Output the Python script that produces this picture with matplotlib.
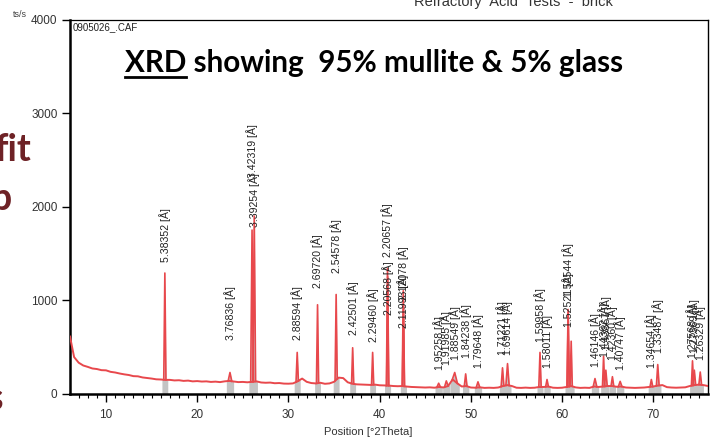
import numpy as np
import matplotlib
matplotlib.use("Agg")
import matplotlib.pyplot as plt
from matplotlib.lines import Line2D

# ---------------- data ----------------
bg_theta = [6.05, 6.5, 7.0, 7.5, 8.0, 8.5, 9.0, 9.5, 10.0, 10.5, 11.0, 11.5, 12.0, 12.5,
            13.0, 13.5, 14.0, 14.5, 15.0, 15.5, 16.0, 16.5, 17.0, 17.5, 18.0, 18.5, 19.0,
            19.5, 20.0, 20.5, 21.0, 21.5, 22.0, 22.5, 23.0, 23.5, 24.0, 24.5, 25.0, 25.5,
            26.0, 26.5, 27.0, 27.5, 28.0, 28.5, 29.0, 29.5, 30.0, 30.5, 31.0, 31.5, 32.0,
            32.5, 33.0, 33.5, 34.0, 34.5, 35.0, 35.5, 36.0, 36.5, 37.0, 37.5, 38.0, 38.5,
            39.0, 39.5, 40.0, 40.5, 41.0, 41.5, 42.0, 42.5, 43.0, 43.5, 44.0, 44.5, 45.0,
            45.5, 46.0, 46.5, 47.0, 47.5, 48.0, 48.5, 49.0, 49.5, 50.0, 50.5, 51.0, 51.5,
            52.0, 52.5, 53.0, 53.5, 54.0, 54.5, 55.0, 55.5, 56.0, 56.5, 57.0, 57.5, 58.0,
            58.5, 59.0, 59.5, 60.0, 60.5, 61.0, 61.5, 62.0, 62.5, 63.0, 63.5, 64.0, 64.5,
            65.0, 65.5, 66.0, 66.5, 67.0, 67.5, 68.0, 68.5, 69.0, 69.5, 70.0, 70.5, 71.0,
            71.5, 72.0, 72.5, 73.0, 73.5, 74.0, 74.5, 75.0, 75.5, 76.0]
bg_counts = [610, 390, 330, 300, 285, 268, 262, 250, 248, 232, 225, 214, 205, 198,
             186, 184, 172, 166, 160, 152, 150, 146, 146, 140, 142, 135, 138,
             130, 133, 128, 130, 124, 127, 122, 130, 135, 128, 122, 124, 120,
             125, 130, 118, 115, 117, 110, 112, 106, 105, 108, 130, 160, 125,
             112, 108, 115, 104, 108, 125, 170, 165, 120, 105, 98, 96, 94,
             92, 95, 88, 86, 85, 80, 78, 80, 74, 70, 68, 66, 64,
             66, 62, 70, 65, 80, 150, 110, 75, 80, 64, 62, 66, 60,
             62, 60, 64, 80, 90, 80, 62, 60, 63, 60, 62, 70, 70,
             75, 62, 60, 62, 70, 80, 65, 60, 62, 60, 75, 70, 75,
             80, 80, 72, 75, 64, 62, 60, 62, 64, 70, 75, 85, 90,
             68, 64, 62, 64, 66, 80, 90, 95, 90, 80]

peak_theta = [16.45, 23.59, 26.01, 26.25, 30.96, 33.19, 35.23, 37.04, 39.23, 40.86,
              40.88, 42.59, 42.61, 46.47, 47.31, 48.23, 49.43, 50.78, 53.47, 54.02,
              57.58, 58.35, 60.66, 60.67, 61.00, 63.61, 64.55, 64.80, 65.52, 66.37,
              69.79, 70.49, 74.30, 74.50, 75.15]
peak_counts = [1290, 225, 1750, 1900, 440, 950, 1060, 490, 440, 1340,
               1250, 1100, 950, 110, 135, 225, 210, 125, 275, 320,
               440, 150, 900, 860, 560, 160, 400, 250, 180, 130,
               150, 310, 350, 250, 230]
peak_labels = ["5.38352", "3.76836", "3.42319", "3.39254", "2.88594", "2.69720",
               "2.54578", "2.42501", "2.29460", "2.20657", "2.20568", "2.12078",
               "2.11993", "1.95258", "1.91985", "1.88549", "1.84238", "1.79648",
               "1.71221", "1.69614", "1.59958", "1.58011", "1.52544", "1.52521", "",
               "1.46146", "1.44362", "1.43867", "1.42360", "1.40747", "1.34654",
               "1.33487", "1.27568", "1.27369", "1.26329"]

# ---------------- layout / style ----------------
peak_halfwidth = [0.12, 0.2, 0.15, 0.15, 0.13, 0.12, 0.12, 0.12, 0.12, 0.12,
                  0.12, 0.12, 0.12, 0.2, 0.2, 0.3, 0.15, 0.2, 0.15, 0.18,
                  0.13, 0.15, 0.12, 0.12, 0.12, 0.2, 0.12, 0.15, 0.15, 0.2,
                  0.15, 0.15, 0.12, 0.15, 0.15]
label_bottom = [1410, 570, 2310, 1780, 570, 1125, 1295, 625, 550, 1460,
                840, 1000, 700, 250, 300, 355, 375, 270, 410, 410,
                550, 270, 1030, 710, None, 280, 390, 465, 355, 250,
                270, 430, 380, 430, 355]

W, H = 713, 438
RED = "#e8484c"
GRAY = "#c4c4c4"
MAROON = "#6e2226"
plt.rcParams["font.family"] = ["Liberation Sans", "DejaVu Sans"]

fig = plt.figure(figsize=(W / 100, H / 100), dpi=100)
ax = fig.add_axes([70 / W, 1 - 393.5 / H, (708 - 70) / W, (393.5 - 20) / H])
ax.set_xlim(6.05, 76.0)
ax.set_ylim(0, 4000)

def bgval(t):
    return float(np.interp(t, bg_theta, bg_counts))

# gray filled peak areas
for t, h, hw in zip(peak_theta, peak_counts, peak_halfwidth):
    gw = hw + 0.2
    xs = [t - gw, t - hw, t, t + hw, t + gw]
    ys = [bgval(t - gw), bgval(t - hw), h, bgval(t + hw), bgval(t + gw)]
    ax.fill_between(xs, 0, ys, color=GRAY, lw=0, zorder=1)

# trace
ax.plot(bg_theta, bg_counts, color=RED, lw=1.4, zorder=3)
for t, h, hw in zip(peak_theta, peak_counts, peak_halfwidth):
    ax.plot([t - hw, t, t + hw], [bgval(t - hw), h, bgval(t + hw)],
            color=RED, lw=1.2, zorder=3)

# peak labels
for t, lab, yb in zip(peak_theta, peak_labels, label_bottom):
    if lab:
        ax.text(t, yb, lab + " [Å]", rotation=90, ha="center", va="bottom",
                fontsize=7.6, color="#222222", zorder=4)

# axes styling
for s, lw in (("left", 1.8), ("bottom", 1.8), ("top", 0.9), ("right", 1.0)):
    ax.spines[s].set_linewidth(lw)
    ax.spines[s].set_color("black")
ax.set_yticks([0, 1000, 2000, 3000, 4000])
ax.set_xticks([10, 20, 30, 40, 50, 60, 70])
ax.set_xticks(np.arange(7, 76, 1), minor=True)
ax.tick_params(axis="both", which="major", direction="out", length=6, width=1,
               labelsize=8.5, labelcolor="#333333", pad=3)
ax.tick_params(axis="x", which="minor", direction="out", length=3, width=0.8)
ax.tick_params(axis="x", which="major", pad=5)

fig.text(13 / W, 1 - 17 / H, "ts/s", fontsize=6.5, color="#444444", va="baseline")
ax.text(0.004, 0.993, "0905026_.CAF", transform=ax.transAxes, fontsize=7,
        color="#222222", va="top", ha="left")
fig.text(368 / W, 1 - 435 / H, "Position [°2Theta]", fontsize=8, color="#333333",
         ha="center", va="baseline")

# partially visible slide header (cut at the top edge)
fig.text(513 / W, 1 - 6 / H, "Refractory  Acid  Tests  -  brick", fontsize=10.5,
         color="#333333", ha="center", va="baseline")

# title with underlined "XRD"
tfont = dict(family="Lato", weight="bold", size=21.3, color="black")
title_x, title_y = 125 / W, 1 - 72 / H
fig.text(title_x, title_y, "XRD showing  95% mullite & 5% glass", va="baseline",
         ha="left", **tfont)
probe = fig.text(title_x, title_y, "XRD", va="baseline", ha="left", alpha=0, **tfont)
fig.canvas.draw()
bb = probe.get_window_extent(fig.canvas.get_renderer())
uy = 1 - 77 / H
fig.add_artist(Line2D([bb.x0 / W, bb.x1 / W], [uy, uy], color="black", lw=2.0,
                      transform=fig.transFigure))

# slide fragments on the left
lfont = dict(family="Lato", weight="bold", size=27, color=MAROON)
fig.text(31 / W, 1 - 161 / H, "fit", ha="right", va="baseline", **lfont)
fig.text(12 / W, 1 - 210 / H, "p", ha="right", va="baseline", **lfont)
fig.text(3 / W, 1 - 410 / H, "s", ha="right", va="baseline", **lfont)

fig.savefig("out.png", dpi=100)
